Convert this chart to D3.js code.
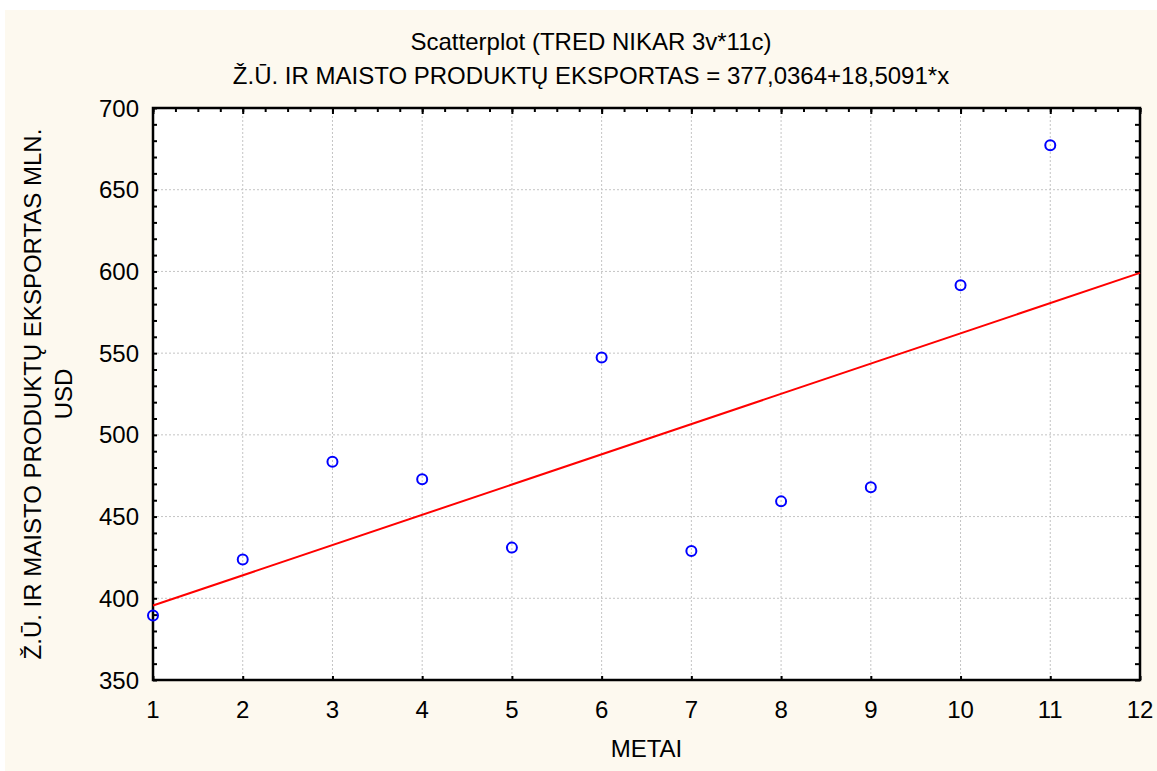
<!DOCTYPE html>
<html>
<head>
<meta charset="utf-8">
<script src="https://cdn.jsdelivr.net/npm/d3@7"></script>
<style>
  body { margin: 0; background: #fff; }
  text { font-family: Arial, "Liberation Sans", sans-serif; fill: #000; }
</style>
</head>
<body>
<div id="chart"></div>
<script>
// data
const metai = [1, 2, 3, 4, 5, 6, 7, 8, 9, 10, 11]
const eksportas = [389.5, 423.7, 483.6, 472.8, 431.0, 547.4, 429.0, 459.3, 467.9, 591.5, 677.2]
const intercept = 377.0364
const slope = 18.5091
const xTicks = [1, 2, 3, 4, 5, 6, 7, 8, 9, 10, 11, 12]
const yTicks = [350, 400, 450, 500, 550, 600, 650, 700]

const width = 1157, height = 771
const margin = { left: 153, right: 17, top: 108, bottom: 91 }

const svg = d3.select('#chart').append('svg')
    .attr('width', width)
    .attr('height', height)

svg.append('rect')
    .attr('x', 5).attr('y', 10)
    .attr('width', width - 5).attr('height', height - 10)
    .attr('fill', '#fdf9ef')

const x = d3.scaleLinear().domain([1, 12]).range([margin.left, width - margin.right])
const y = d3.scaleLinear().domain([350, 700]).range([height - margin.bottom, margin.top])

// plot background
svg.append('rect')
    .attr('x', x(1)).attr('y', y(700))
    .attr('width', x(12) - x(1)).attr('height', y(350) - y(700))
    .attr('fill', '#fff')

// grid
const grid = svg.append('g')
    .attr('stroke', '#c4c4c4')
    .attr('stroke-dasharray', '2,2')
    .attr('stroke-width', 1)
grid.selectAll('line.gx')
    .data(xTicks.slice(1, -1))
    .enter().append('line')
        .attr('x1', d => x(d)).attr('x2', d => x(d))
        .attr('y1', y(700)).attr('y2', y(350))
grid.selectAll('line.gy')
    .data(yTicks.slice(1, -1))
    .enter().append('line')
        .attr('x1', x(1)).attr('x2', x(12))
        .attr('y1', d => y(d)).attr('y2', d => y(d))

// axes: ticks point inward
const minorY = d3.range(350, 701, 10)
const minorX = d3.range(1, 12.01, 0.25)

svg.append('g').attr('transform', `translate(${x(1)},0)`)
    .call(d3.axisLeft(y).tickValues(minorY).tickSize(-4).tickFormat(''))
svg.append('g').attr('transform', `translate(${x(12)},0)`)
    .call(d3.axisRight(y).tickValues(minorY).tickSize(-5).tickFormat(''))
svg.append('g').attr('transform', `translate(0,${y(700)})`)
    .call(d3.axisTop(x).tickValues(minorX).tickSize(-4).tickFormat(''))
svg.append('g').attr('transform', `translate(0,${y(350)})`)
    .call(d3.axisBottom(x).tickValues(xTicks).tickSize(-4).tickFormat(''))
svg.append('g').attr('transform', `translate(0,${y(700)})`)
    .call(d3.axisTop(x).tickValues(xTicks).tickSize(-6).tickFormat(''))

svg.selectAll('.domain').remove()
svg.selectAll('.tick line').attr('stroke', '#000').attr('stroke-width', 2)

// frame
svg.append('rect')
    .attr('x', x(1)).attr('y', y(700))
    .attr('width', x(12) - x(1)).attr('height', y(350) - y(700))
    .attr('fill', 'none')
    .attr('stroke', '#000')
    .attr('stroke-width', 2.5)

// tick labels
svg.append('g')
    .selectAll('text')
    .data(yTicks)
    .enter().append('text')
        .attr('x', x(1) - 14)
        .attr('y', d => y(d) + 8.5)
        .attr('text-anchor', 'end')
        .attr('font-size', 24)
        .text(d => d)
svg.append('g')
    .selectAll('text')
    .data(xTicks)
    .enter().append('text')
        .attr('x', d => x(d))
        .attr('y', y(350) + 38)
        .attr('text-anchor', 'middle')
        .attr('font-size', 24)
        .text(d => d)

// regression line
svg.append('line')
    .attr('x1', x(1)).attr('y1', y(intercept + slope * 1))
    .attr('x2', x(12)).attr('y2', y(intercept + slope * 12))
    .attr('stroke', '#ff0000')
    .attr('stroke-width', 2)

// points
svg.append('g')
    .selectAll('circle')
    .data(metai)
    .enter().append('circle')
        .attr('cx', d => x(d))
        .attr('cy', (d, i) => y(eksportas[i]))
        .attr('r', 5)
        .attr('fill', 'none')
        .attr('stroke', '#0000ff')
        .attr('stroke-width', 2)

// titles
svg.append('text')
    .attr('x', 591).attr('y', 50)
    .attr('text-anchor', 'middle')
    .attr('font-size', 24)
    .text('Scatterplot (TRED NIKAR 3v*11c)')
svg.append('text')
    .attr('x', 591).attr('y', 84)
    .attr('text-anchor', 'middle')
    .attr('font-size', 24)
    .text('Ž.Ū. IR MAISTO PRODUKTŲ EKSPORTAS = 377,0364+18,5091*x')

svg.append('text')
    .attr('x', (x(1) + x(12)) / 2).attr('y', 757)
    .attr('text-anchor', 'middle')
    .attr('font-size', 24)
    .text('METAI')

const yl = svg.append('text')
    .attr('transform', `translate(41,${(y(350) + y(700)) / 2}) rotate(-90)`)
    .attr('text-anchor', 'middle')
    .attr('font-size', 24)
yl.append('tspan').attr('x', 0).attr('dy', 0).text('Ž.Ū. IR MAISTO PRODUKTŲ EKSPORTAS MLN.')
yl.append('tspan').attr('x', 0).attr('dy', 31).text('USD')
</script>
</body>
</html>
